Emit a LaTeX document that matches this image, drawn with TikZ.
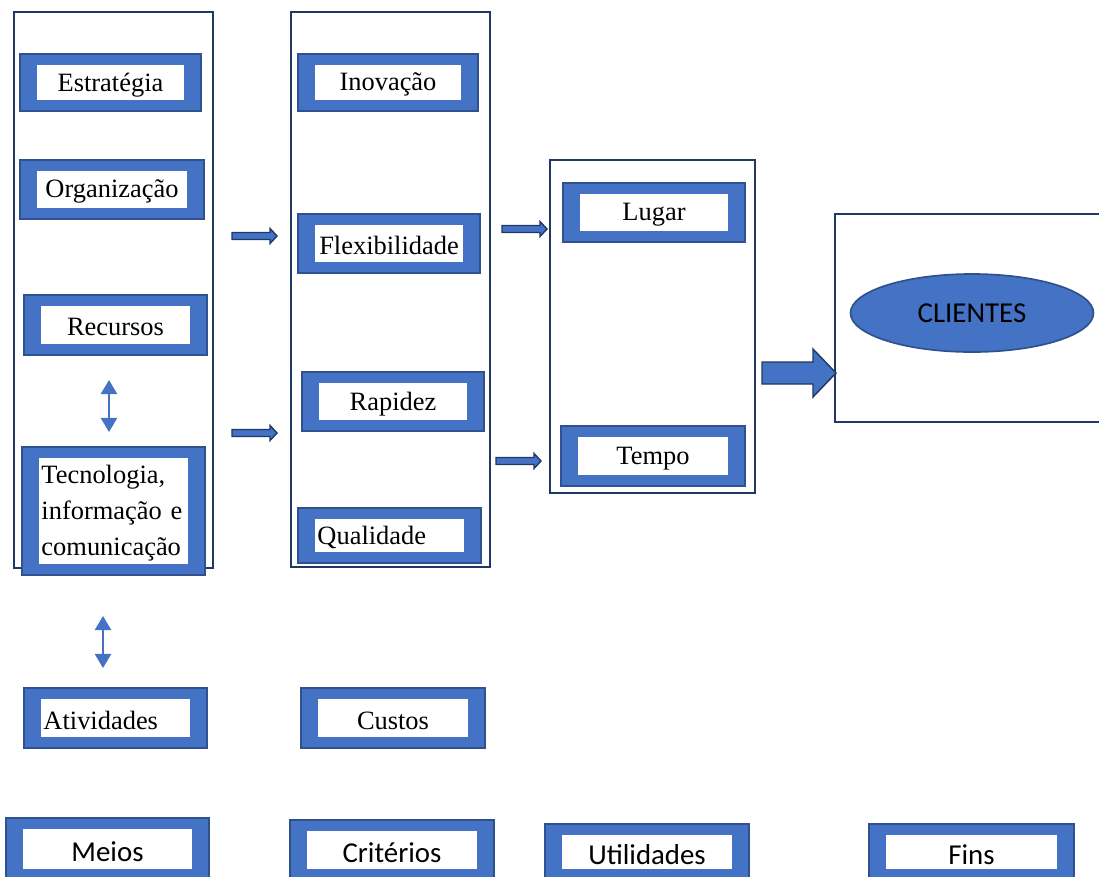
\documentclass[tikz,border=0pt]{standalone}
\usepackage{fontspec}
\setmainfont{Liberation Serif}
\newfontfamily\calibri{Carlito}
\usetikzlibrary{arrows.meta,calc,shapes.geometric}
\definecolor{Azul}{HTML}{4472C4}
\definecolor{Borda}{HTML}{2F528F}
\definecolor{Moldura}{HTML}{1F3864}
\newcommand\pxl{0.025cm}
% caixa azul com miolo branco: [opcoes]{nome}{canto}{canto}{texto}
\newcommand\caixa[5][]{\draw[caixa](#3)rectangle(#4);\fill[white]($(#3)+(17,11)$)rectangle($(#4)-(17,11)$);\node[rotulo,#1](#2)at($(#3)!.5!(#4)$){#5};}
% seta em bloco: {inicio}{fim}{meia haste}{meia ponta}{comprimento da ponta}
\newcommand\seta[5]{\filldraw[seta]($(#1)+(0,#3)$)--($(#2)+(-#5,#3)$)--($(#2)+(-#5,#4)$)--(#2)--($(#2)+(-#5,-#4)$)--($(#2)+(-#5,-#3)$)--($(#1)+(0,-#3)$)--cycle;}

\begin{document}
\begin{tikzpicture}[x=\pxl,y=-\pxl,
  caixa/.style={draw=Borda,fill=Azul,line width=1.5pt},
  rotulo/.style={font=\fontsize{18.8}{25.6}\selectfont,inner sep=0pt,align=center,yshift=-0.06cm},
  esq/.style={text width=3.6cm,align=left},
  rodape/.style={font=\calibri\fontsize{20.5}{24}\selectfont},
  moldura/.style={draw=Moldura,line width=1.4pt},
  seta/.style={draw=Moldura,fill=Azul,line width=1pt},
  duplo/.style={Azul,line width=1.5pt,{Triangle[length=10pt,width=11.5pt]}-{Triangle[length=10pt,width=11.5pt]}}]
\useasboundingbox (0,0) rectangle (1099,876);
% molduras das colunas
\draw[moldura] (14,12) rectangle (213,568);\draw[moldura] (291,12) rectangle (490,567);
\draw[moldura] (550,160) rectangle (755,493);\draw[moldura] (1105,214) -| (835,422) -- (1105,422);
% meios
\caixa{estr}{20,54}{201,111}{Estratégia}
\caixa{org}{20,160}{204,219}{Organização}
\caixa{rec}{24,295}{207,355}{Recursos}
\caixa[esq]{tec}{22,447}{205,575}{Tecnologia,\\informação e\\comunicação}
\caixa[esq]{ativ}{24,688}{207,748}{Atividades}
% criterios
\caixa{inov}{298,54}{478,111}{Inovação}
\caixa{flex}{298,214}{480,273}{Flexibilidade}
\caixa{rap}{302,372}{484,431}{Rapidez}
\caixa[esq]{qual}{298,508}{481,563}{Qualidade}
\caixa{cust}{301,688}{485,748}{Custos}
% utilidades
\caixa{lug}{563,183}{745,242}{Lugar}
\caixa{temp}{561,426}{745,486}{Tempo}
% fins
\node[ellipse,draw=Borda,fill=Azul,line width=1.2pt,minimum width=243*\pxl,minimum height=78*\pxl,font=\calibri\fontsize{20.5}{24}\selectfont] (cli) at (972,313) {CLIENTES};
% legendas
\caixa[rodape]{meios}{6,818}{209,880}{Meios}
\caixa[rodape]{crit}{290,820}{494,880}{Critérios}
\caixa[rodape]{util}{545,824}{749,880}{Utilidades}
\caixa[rodape]{fins}{869,824}{1074,880}{Fins}
% setas
\coordinate(s1)at(232,236);\coordinate(e1)at(277,236);\coordinate(s2)at(232,433);\coordinate(e2)at(277,433);
\coordinate(s3)at(502,229);\coordinate(e3)at(547,229);\coordinate(s4)at(496,461);\coordinate(e4)at(541,461);
\coordinate(g1)at(762,373);\coordinate(g2)at(836,373);
\seta{s1}{e1}{3.5}{7.5}{7}\seta{s2}{e2}{3.5}{7.5}{7}\seta{s3}{e3}{3.5}{7.5}{7}\seta{s4}{e4}{3.5}{7.5}{7}
\seta{g1}{g2}{11}{24}{23}
\coordinate(d1)at(109,380);\coordinate(d2)at(109,432);\coordinate(d3)at(103,616);\coordinate(d4)at(103,668);
\draw[duplo](d1)--(d2);\draw[duplo](d3)--(d4);
\end{tikzpicture}
\end{document}
